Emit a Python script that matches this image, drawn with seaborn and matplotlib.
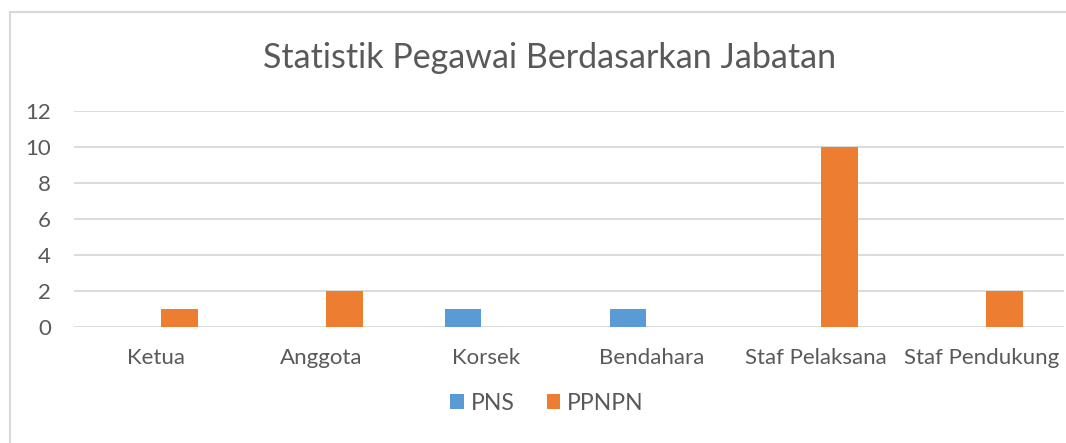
import matplotlib
matplotlib.use("Agg")
import matplotlib.pyplot as plt
from matplotlib.lines import Line2D
from matplotlib.patches import Patch
import seaborn as sns
import pandas as pd

categories = ["Ketua", "Anggota", "Korsek", "Bendahara", "Staf Pelaksana", "Staf Pendukung"]
series_names = ["PNS", "PPNPN"]
pns = [0, 0, 1, 1, 0, 0]
ppnpn = [1, 2, 0, 0, 10, 2]
yticks = [0, 2, 4, 6, 8, 10, 12]
title = "Statistik Pegawai Berdasarkan Jabatan"
colors = ["#5B9BD5", "#ED7D31"]

df = pd.DataFrame({
    "Jabatan": categories * 2,
    "Seri": [series_names[0]] * len(categories) + [series_names[1]] * len(categories),
    "Jumlah": pns + ppnpn,
})

sns.set_theme(style="white")
plt.rcParams["font.family"] = ["Lato", "DejaVu Sans"]

W, H = 1066, 443
fig = plt.figure(figsize=(W / 100, H / 100), dpi=100)
fig.patch.set_facecolor("white")
ax = fig.add_axes([73.75 / W, 1 - 327.3 / H, 990 / W, (327.3 - 110.7) / H])

sns.barplot(data=df, x="Jabatan", y="Jumlah", hue="Seri", order=categories,
            hue_order=series_names, palette=colors, width=0.564, gap=0.206,
            linewidth=0, saturation=1, ax=ax, legend=False, zorder=3)

ax.set_xlim(-0.5, len(categories) - 0.5)
ax.set_ylim(0, 12)
ax.set_yticks(yticks)
ax.set_yticklabels([str(t) for t in yticks])
ax.yaxis.grid(True, color="#D9D9D9", linewidth=1.3, zorder=0)
ax.set_axisbelow(True)
for s in ax.spines.values():
    s.set_visible(False)
ax.tick_params(axis="y", length=0, pad=16.5, labelsize=16, labelcolor="#595959")
ax.tick_params(axis="x", length=0, pad=15, labelsize=16, labelcolor="#595959")
ax.set_xlabel("")
ax.set_ylabel("")

fig.text(550 / W, 1 - 58 / H, title, ha="center", va="center", fontsize=24.5, color="#595959")

handles = [Patch(facecolor=c, edgecolor="none") for c in colors]
fig.legend(handles, series_names, loc="center", bbox_to_anchor=(547 / W, 1 - 403 / H),
           ncol=2, frameon=False, fontsize=16.5, labelcolor="#595959",
           handlelength=0.6, handleheight=0.6, handletextpad=0.3, columnspacing=1.4)

fig.add_artist(Line2D([9.5 / W, 9.5 / W], [1 - 11.5 / H, 0], transform=fig.transFigure,
                      color="#D9D9D9", linewidth=1.5))
fig.add_artist(Line2D([9.5 / W, 1], [1 - 11.5 / H, 1 - 11.5 / H], transform=fig.transFigure,
                      color="#D9D9D9", linewidth=1.5))

fig.savefig("out.png", dpi=100, facecolor="white")
